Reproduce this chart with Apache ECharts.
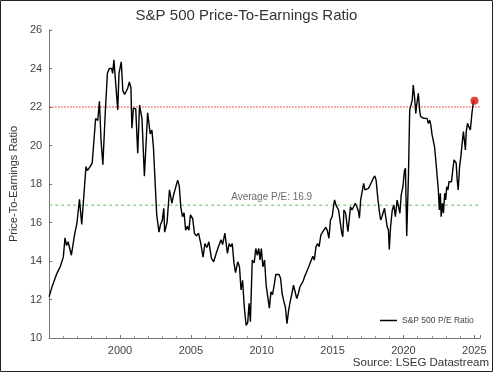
<!DOCTYPE html>
<html>
<head>
<meta charset="utf-8">
<script src="https://cdn.jsdelivr.net/npm/echarts@6/dist/echarts.min.js"></script>
<style>
html,body{margin:0;padding:0;background:#fff;}
#chart{width:493px;height:372px;}
</style>
</head>
<body>
<div id="chart"></div>
<script>
// Decimal years of each reading
const years = [
1995.00,1995.21,1995.55,1995.78,1996.00,1996.12,1996.23,1996.34,1996.57,1996.80,1996.96,1997.14,1997.30,1997.60,1997.70,1997.89,
1998.04,1998.28,1998.43,1998.55,1998.66,1998.79,1998.96,1999.11,1999.25,1999.41,1999.48,1999.57,1999.71,1999.84,1999.93,
2000.09,2000.20,2000.32,2000.54,2000.66,2000.77,2000.84,2000.95,2001.11,2001.25,2001.38,2001.55,2001.72,2001.95,
2002.13,2002.25,2002.36,2002.47,2002.59,2002.66,2002.75,2002.86,2002.98,2003.09,2003.15,2003.32,2003.49,2003.66,2003.77,2003.90,
2004.07,2004.18,2004.29,2004.41,2004.52,2004.63,2004.75,2004.86,2004.97,2005.13,2005.25,2005.38,2005.54,2005.70,2005.86,2005.99,
2006.13,2006.27,2006.45,2006.61,2006.79,2006.95,2007.13,2007.24,2007.40,2007.58,2007.70,2007.81,2007.92,
2008.04,2008.15,2008.31,2008.43,2008.54,2008.65,2008.77,2008.90,2009.01,2009.11,2009.20,2009.33,2009.47,2009.58,2009.69,2009.79,2009.88,2009.97,
2010.08,2010.20,2010.31,2010.42,2010.54,2010.65,2010.76,2010.88,2010.99,2011.22,2011.33,2011.44,2011.56,2011.67,2011.78,2011.90,
2012.01,2012.13,2012.24,2012.35,2012.47,2012.58,2012.69,2012.81,2012.92,2013.03,2013.15,2013.26,2013.37,2013.49,2013.60,2013.71,2013.83,2013.94,
2014.05,2014.17,2014.29,2014.40,2014.51,2014.62,2014.74,2014.85,2014.97,2015.08,2015.14,2015.24,2015.31,2015.42,2015.53,2015.65,2015.72,2015.80,2015.92,2015.99,
2016.08,2016.17,2016.26,2016.37,2016.49,2016.60,2016.71,2016.83,2016.89,2016.98,2017.08,2017.19,2017.28,2017.39,2017.53,2017.64,2017.76,2017.87,2017.98,
2018.07,2018.19,2018.30,2018.39,2018.48,2018.58,2018.66,2018.78,2018.85,2018.94,2019.00,2019.09,2019.21,2019.32,2019.43,2019.55,2019.67,2019.75,2019.84,2019.96,
2020.07,2020.14,2020.23,2020.35,2020.44,2020.52,2020.62,2020.69,2020.78,2020.87,2020.93,2021.05,2021.14,2021.21,2021.32,2021.44,2021.55,2021.66,2021.75,2021.85,2021.93,
2022.02,2022.12,2022.19,2022.28,2022.34,2022.46,2022.53,2022.60,2022.66,2022.75,2022.82,2022.91,2022.98,2023.05,2023.14,2023.21,2023.30,2023.39,2023.48,2023.57,2023.66,2023.72,2023.79,2023.86,2023.96,
2024.05,2024.14,2024.23,2024.30,2024.37,2024.43,2024.52,2024.61,2024.72,2024.83,2024.94,2025.01
];
// S&P 500 P/E ratio readings
const peRatio = [
12.15,12.67,13.36,13.70,14.20,15.20,14.80,15.00,14.30,15.40,15.95,17.20,15.90,18.90,18.70,18.90,
19.10,21.40,21.30,22.30,20.30,19.00,21.70,23.75,24.00,24.00,23.75,24.45,23.10,21.85,23.75,
24.35,22.85,22.65,22.97,23.30,23.00,20.90,21.95,21.90,19.60,22.10,21.40,18.40,21.70,
20.60,20.80,19.90,18.20,16.40,16.00,15.50,15.90,16.10,16.74,15.50,16.00,17.70,17.00,17.40,17.30,
18.20,17.90,16.80,16.30,16.50,15.60,15.80,15.60,16.40,16.20,15.45,15.30,15.45,14.90,14.20,14.90,
14.70,15.00,14.15,13.96,14.40,14.75,15.10,14.85,15.45,14.40,14.90,14.75,14.90,
13.90,13.40,13.96,13.70,12.50,13.00,11.60,10.65,10.80,11.80,10.85,14.05,13.90,14.65,14.30,14.65,14.05,14.65,
13.70,14.05,12.75,12.70,11.55,12.40,12.25,12.75,13.30,13.30,13.10,12.30,11.90,11.60,10.75,11.45,
11.90,12.30,12.75,12.85,12.05,12.30,12.65,12.55,12.95,13.20,13.40,13.50,13.80,13.90,14.25,14.05,14.75,14.90,
14.75,15.35,15.50,15.45,15.75,15.60,15.18,16.13,16.30,16.90,17.17,16.90,17.00,16.65,16.55,15.44,15.26,16.65,16.48,16.56,
15.52,16.13,16.82,16.65,16.74,17.00,16.82,16.56,16.22,17.17,17.25,18.03,17.69,17.69,17.77,17.86,18.12,18.30,18.42,
18.20,17.26,16.56,16.13,16.30,16.22,16.74,16.82,15.78,15.61,14.60,15.78,16.65,16.90,16.30,17.17,17.08,16.48,17.43,17.86,
18.70,18.82,15.30,18.38,21.84,21.93,22.36,23.14,22.53,21.67,22.10,22.71,21.84,21.50,21.58,21.41,21.32,21.41,21.15,21.32,21.06,
20.55,20.46,19.94,19.25,18.73,17.69,16.65,17.52,16.30,17.00,16.48,17.52,17.17,17.86,17.69,18.12,18.03,18.12,18.73,19.25,19.33,19.08,18.21,17.69,18.90,
19.42,20.11,20.72,20.63,19.77,20.72,21.15,20.98,20.81,21.67,22.28,22.33
];
const averagePE = 16.9;
const referenceLevel = 22;
const yTicks = [10, 26, 2];   // min, max, step
const xTicks = [1995, 2025.4, 5];
const averageLabelYear = 2010.7;

const seriesData = years.map((y, i) => [y, peRatio[i]]);
const lastPoint = [[years[years.length - 1], peRatio[peRatio.length - 1]]];
const refLine = [[xTicks[0], referenceLevel], [xTicks[1], referenceLevel]];
const avgLine = [[xTicks[0], averagePE], [xTicks[1], averagePE]];

const chart = echarts.init(document.getElementById('chart'));
const FONT = 'Liberation Sans, Arial, sans-serif';
chart.setOption({
  animation: false,
  textStyle: { fontFamily: FONT },
  title: {
    text: 'S&P 500 Price-To-Earnings Ratio',
    left: 'center', top: 3,
    textStyle: { fontSize: 15, fontWeight: 'normal', color: '#333', fontFamily: FONT }
  },
  grid: { left: 34, right: 13, top: 30, bottom: 34 },
  legend: {
    data: [{ name: 'S&P 500 P/E Ratio', icon: 'rect' }],
    left: 375, top: 311,
    itemWidth: 17, itemHeight: 1.5, itemGap: 4,
    textStyle: { fontSize: 8.5, color: '#444', fontFamily: FONT }
  },
  xAxis: {
    type: 'value',
    min: xTicks[0], max: xTicks[1], interval: xTicks[2],
    axisLine: { lineStyle: { color: '#777' } },
    axisTick: { inside: true, length: 3, lineStyle: { color: '#777' } },
    minorTick: { show: true, splitNumber: 5, length: 2, lineStyle: { color: '#999' } },
    splitLine: { show: false },
    axisLabel: { color: '#444', fontSize: 11, margin: 7, showMinLabel: false, formatter: v => String(Math.round(v)) }
  },
  yAxis: {
    type: 'value',
    min: yTicks[0], max: yTicks[1], interval: yTicks[2],
    name: 'Price-To-Earnings Ratio',
    nameLocation: 'middle', nameGap: 25,
    nameTextStyle: { fontSize: 11, color: '#333', fontFamily: FONT },
    axisLine: { show: true, lineStyle: { color: '#777' } },
    axisTick: { show: true, inside: true, length: 3, lineStyle: { color: '#777' } },
    splitLine: { show: false },
    axisLabel: { color: '#444', fontSize: 11, margin: 7 }
  },
  graphic: [
    { type: 'rect', shape: { x: 0.5, y: 0.5, width: 492, height: 371 },
      style: { fill: 'none', stroke: '#222', lineWidth: 1 }, silent: true },
    { type: 'text', right: 4, bottom: 3,
      style: { text: 'Source: LSEG Datastream', fontSize: 11.5, fill: '#333', fontFamily: FONT } }
  ],
  series: [
    {
      name: 'Reference 22',
      type: 'line',
      data: refLine,
      symbol: 'none',
      silent: true,
      lineStyle: { color: '#e8231d', type: [1.5, 1.5], width: 1 },
      itemStyle: { color: '#e8231d' },
      z: 1
    },
    {
      name: 'Average',
      type: 'line',
      data: avgLine,
      symbol: 'none',
      silent: true,
      lineStyle: { color: '#7dc67d', type: [3, 3], width: 1.2 },
      itemStyle: { color: '#7dc67d' },
      z: 1
    },
    {
      name: 'Average label',
      type: 'scatter',
      data: [[averageLabelYear, averagePE]],
      symbolSize: 0,
      silent: true,
      itemStyle: { color: 'rgba(0,0,0,0)' },
      label: { show: true, position: 'top', distance: 3, formatter: 'Average P/E: ' + averagePE, color: '#444', fontSize: 10 },
      z: 2
    },
    {
      name: 'S&P 500 P/E Ratio',
      type: 'line',
      data: seriesData,
      symbol: 'none',
      lineStyle: { color: '#000', width: 1.4 },
      itemStyle: { color: '#000' },
      z: 3
    },
    {
      name: 'Latest',
      type: 'scatter',
      data: lastPoint,
      symbolSize: 8,
      itemStyle: { color: '#dd1111' },
      z: 5
    }
  ]
});
</script>
</body>
</html>
